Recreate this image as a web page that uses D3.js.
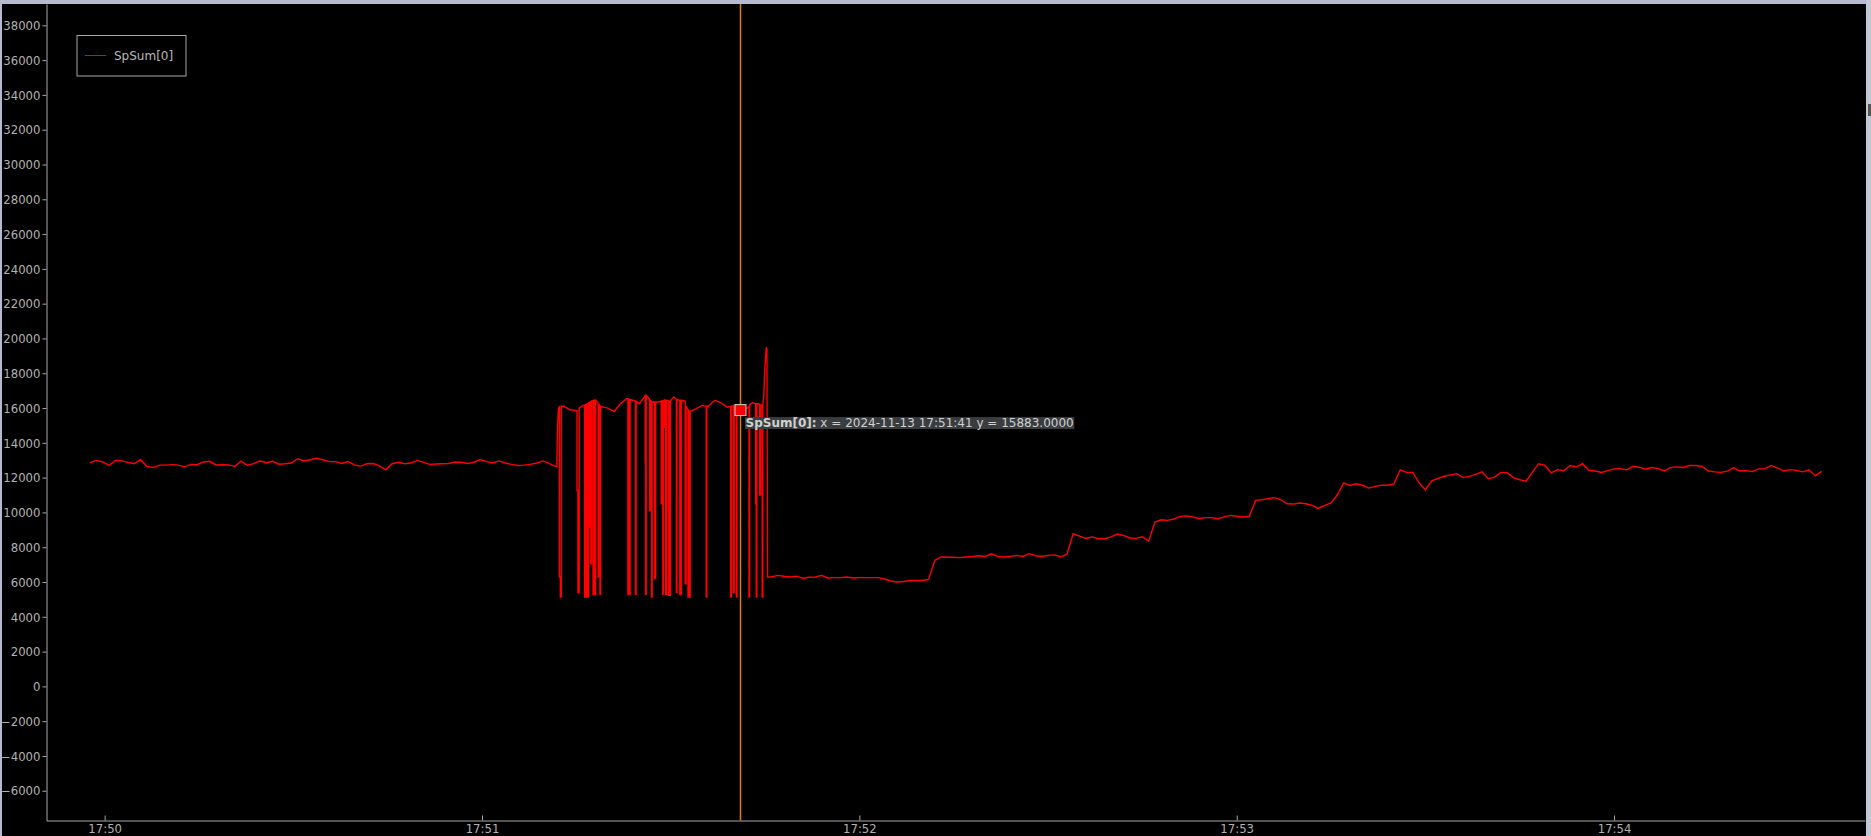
<!DOCTYPE html>
<html>
<head>
<meta charset="utf-8">
<script src="https://cdn.jsdelivr.net/npm/d3@7"></script>
<style>
  html, body { margin: 0; padding: 0; background: #000; overflow: hidden; }
  svg { display: block; }
  text { font-family: "DejaVu Sans", sans-serif; }
</style>
</head>
<body>
<svg id="chart" width="1871" height="836"></svg>
<script>
'use strict';

// series name and the day of the recording
var seriesName = 'SpSum[0]';
var dayStart = new Date(2024, 10, 13, 17, 50, 0);

// steady part before the burst, one value per second from t = -2.3 s
var beforeStart = -2.3;
var before = [
  12860, 12990, 12900, 12700, 12990, 12960, 12880, 12800, 13030, 12650,
  12580, 12720, 12720, 12750, 12720, 12620, 12760, 12740, 12900, 12940,
  12730, 12740, 12730, 12650, 12950, 12710, 12800, 12970, 12860, 12940,
  12770, 12800, 12840, 13090, 12960, 13030, 13110, 13030, 12920, 12920,
  12810, 12920, 12730, 12660, 12800, 12810, 12680, 12450, 12800, 12880,
  12800, 12840, 12990, 12880, 12760, 12780, 12800, 12810, 12900, 12880,
  12810, 12880, 13040, 12920, 12840, 12960, 12840, 12760, 12700, 12720,
  12760, 12840, 12960, 12800, 12650
];

// burst with dropouts: [seconds after 17:50, value]
var burst = [
  [71.9, 12650], [72.0, 14900], [72.15, 15970], [72.3, 16050],
  [72.3, 6300], [72.45, 6300], [72.45, 5140], [72.6, 5140], [72.6, 16100],
  [73.0, 16100], [74.0, 15900], [75.0, 15850],
  [75.1, 15850], [75.1, 11270], [75.25, 11270], [75.25, 5400], [75.45, 5400], [75.45, 16000],
  [76.0, 16150],
  [76.3, 16150], [76.3, 5140], [76.45, 5140], [76.45, 16200],
  [76.6, 16200], [76.6, 5140], [76.75, 5140], [76.75, 16250],
  [76.85, 16250], [76.85, 5140], [76.95, 5140], [76.95, 16300],
  [77.05, 16300], [77.05, 9160], [77.15, 9160], [77.15, 16350],
  [77.3, 16350], [77.3, 7050], [77.4, 7050], [77.4, 16400],
  [77.65, 16420], [77.65, 5300], [77.8, 5300], [77.8, 16450],
  [77.95, 16450], [77.95, 5300], [78.05, 5300], [78.05, 16450],
  [78.45, 16300], [78.45, 6300], [78.6, 6300], [78.6, 16200],
  [78.75, 16150], [78.75, 5300], [78.85, 5300], [78.85, 16100],
  [80.0, 16000], [81.0, 15800], [82.0, 16250], [83.0, 16540],
  [83.2, 16540], [83.2, 5300], [83.35, 5300], [83.35, 16500],
  [83.45, 16500], [83.45, 5300], [83.55, 5300], [83.55, 16480],
  [84.0, 16450],
  [84.4, 16400], [84.4, 5300], [84.5, 5300], [84.5, 16380],
  [85.0, 16250],
  [85.95, 16700], [85.95, 12900], [86.0, 12900], [86.0, 5300], [86.1, 5300], [86.1, 16740],
  [86.65, 16500], [86.65, 10100], [86.75, 10100], [86.75, 16450],
  [86.95, 16400], [86.95, 5140], [87.05, 5140], [87.05, 16350],
  [87.45, 16350], [87.45, 6200], [87.6, 6200], [87.6, 16350],
  [88.0, 16350],
  [88.5, 16400], [88.5, 10500], [88.6, 10500], [88.6, 16400],
  [88.75, 16420], [88.75, 5300], [88.85, 5300], [88.85, 16430],
  [88.95, 16450], [88.95, 14900], [89.05, 14900], [89.05, 16450],
  [89.2, 16450], [89.2, 5300], [89.3, 5300], [89.3, 16450],
  [89.6, 16420], [89.6, 5240], [89.75, 5240], [89.75, 16400],
  [89.85, 16400], [89.85, 5240], [89.95, 5240], [89.95, 16400],
  [90.5, 16640],
  [90.9, 16500], [90.9, 5400], [91.0, 5400], [91.0, 16500],
  [91.45, 16450], [91.45, 5300], [91.55, 5300], [91.55, 16450],
  [91.65, 16450], [91.65, 5300], [91.7, 5300], [91.7, 16440],
  [92.0, 16420],
  [92.3, 16400], [92.3, 5900], [92.45, 5900], [92.45, 16100],
  [92.75, 15900], [92.75, 5140], [92.85, 5140], [92.85, 15850],
  [93.0, 15800], [93.0, 5140], [93.1, 5140], [93.1, 15800],
  [94.0, 15950], [95.0, 16150],
  [95.65, 16100], [95.65, 5140], [95.75, 5140], [95.75, 16100],
  [96.0, 16100], [97.0, 16450], [98.0, 16300], [99.0, 16050],
  [99.55, 16100], [99.55, 5140], [99.65, 5140], [99.65, 16100],
  [99.95, 16150], [99.95, 5400], [100.1, 5400], [100.1, 16150],
  [100.45, 16100], [100.45, 5140], [100.55, 5140], [100.55, 16050],
  [101.0, 16000], [101.4, 15883], [102.0, 15950],
  [102.45, 16100], [102.45, 5140], [102.55, 5140], [102.55, 16200],
  [103.0, 16300],
  [103.5, 16250], [103.5, 10500], [103.6, 10500], [103.6, 5140], [103.7, 5140], [103.7, 16250],
  [104.0, 16250],
  [104.15, 16200], [104.15, 11000], [104.3, 11000], [104.3, 16150],
  [104.55, 16200], [104.55, 5140], [104.65, 5140], [104.65, 16200],
  [104.8, 16640], [104.95, 18170], [105.2, 19500], [105.3, 19400], [105.4, 6290]
];

// steps after the burst, one value per second from t = 106 s
var afterStart = 106;
var after = [
  6290, 6380, 6330, 6290, 6340, 6220, 6270, 6290, 6380, 6230,
  6250, 6250, 6290, 6230, 6250, 6250, 6250, 6250, 6170, 6060,
  6000, 6030, 6090, 6090, 6090, 6150, 7250, 7440, 7420, 7420,
  7400, 7440, 7470, 7510, 7470, 7620, 7470, 7440, 7470, 7530,
  7470, 7630, 7510, 7470, 7530, 7560, 7450, 7590, 8780, 8640,
  8500, 8590, 8490, 8490, 8590, 8760, 8680, 8530, 8510, 8600,
  8350, 9450, 9580, 9545, 9620, 9770, 9800, 9740, 9640, 9700,
  9700, 9640, 9740, 9830, 9780, 9740, 9780, 10690, 10730, 10790,
  10850, 10740, 10500, 10480, 10540, 10500, 10400, 10230, 10400, 10550,
  11000, 11700, 11550, 11650, 11560, 11400, 11500, 11560, 11560, 11640,
  12450, 12300, 12300, 11700, 11300, 11810, 11950, 12080, 12160, 12230,
  12000, 12070, 12190, 12330, 11940, 12030, 12300, 12290, 12000, 11880,
  11800, 12300, 12800, 12700, 12270, 12460, 12400, 12700, 12610, 12800,
  12420, 12380, 12300, 12400, 12500, 12520, 12450, 12650, 12600, 12480,
  12580, 12520, 12380, 12590, 12620, 12580, 12700, 12700, 12650, 12380,
  12330, 12300, 12370, 12560, 12380, 12400, 12350, 12500, 12520, 12700,
  12550, 12380, 12460, 12420, 12330, 12450, 12100, 12360
];

// axis ticks
var yTicks = [-6000, -4000, -2000, 0, 2000, 4000, 6000, 8000, 10000, 12000, 14000,
  16000, 18000, 20000, 22000, 24000, 26000, 28000, 30000, 32000, 34000, 36000, 38000];
var xTickLabels = ['17:50', '17:51', '17:52', '17:53', '17:54'];

// hovered sample
var cursorTime = '17:51:41';
var cursorValue = 15883;

// view range (seconds after 17:50, value)
var viewX = [-9.25, 279.9];
var viewY = [-7709, 39225];

var W = 1871, H = 836;
var plot = { left: 46.5, right: 1865, top: 4, bottom: 820.5 };

var secToDate = (s) => new Date(dayStart.getTime() + s * 1000);
var parseHM = d3.timeParse('%Y-%m-%d %H:%M');
var parseHMS = d3.timeParse('%Y-%m-%d %H:%M:%S');

// build the point list
var points = [];
before.forEach((v, i) => { points.push({ t: secToDate(beforeStart + i), v: v }); });
burst.forEach((p) => { points.push({ t: secToDate(p[0]), v: p[1] }); });
after.forEach((v, i) => { points.push({ t: secToDate(afterStart + i), v: v }); });

var x = d3.scaleTime()
  .domain([secToDate(viewX[0]), secToDate(viewX[1])])
  .range([plot.left, plot.right]);

var y = d3.scaleLinear()
  .domain(viewY)
  .range([plot.bottom, plot.top]);

var svg = d3.select('#chart');

svg.append('rect')
  .attr('width', W).attr('height', H)
  .attr('fill', '#000');

// clip for the data
svg.append('clipPath').attr('id', 'clip')
  .append('rect')
  .attr('x', plot.left).attr('y', plot.top)
  .attr('width', plot.right - plot.left)
  .attr('height', plot.bottom - plot.top);

var line = d3.line()
  .x((d) => x(d.t))
  .y((d) => y(d.v));

svg.append('path')
  .datum(points)
  .attr('clip-path', 'url(#clip)')
  .attr('fill', 'none')
  .attr('stroke', '#ff0000')
  .attr('stroke-width', 1.4)
  .attr('stroke-linejoin', 'miter')
  .attr('d', line);

// axes
var axisColor = '#a8a8a8';

var yAxis = svg.append('g')
  .attr('transform', 'translate(' + plot.left + ',0)')
  .call(d3.axisLeft(y)
    .tickValues(yTicks)
    .tickSizeInner(4)
    .tickSizeOuter(0)
    .tickPadding(2)
    .tickFormat(d3.format('d')));

var xTickDates = xTickLabels.map((s) => parseHM('2024-11-13 ' + s));

var xAxis = svg.append('g')
  .attr('transform', 'translate(0,' + plot.bottom + ')')
  .call(d3.axisBottom(x)
    .tickValues(xTickDates)
    .tickSizeInner(-5)
    .tickSizeOuter(0)
    .tickPadding(4)
    .tickFormat(d3.timeFormat('%H:%M')));

[yAxis, xAxis].forEach((g) => {
  g.selectAll('path.domain').attr('stroke', axisColor).attr('stroke-width', 1);
  g.selectAll('.tick line').attr('stroke', axisColor);
  g.selectAll('.tick text')
    .attr('fill', '#b2b2b2')
    .style('font-family', '"DejaVu Sans", sans-serif')
    .style('font-size', '11.7px');
});
yAxis.selectAll('.tick text').attr('dy', '0.36em');

// legend
var legend = svg.append('g');
legend.append('rect')
  .attr('x', 77).attr('y', 35.5)
  .attr('width', 109).attr('height', 40.5)
  .attr('fill', '#000')
  .attr('stroke', '#a8a8a8')
  .attr('stroke-width', 1);
legend.append('line')
  .attr('x1', 85).attr('x2', 106)
  .attr('y1', 55.5).attr('y2', 55.5)
  .attr('stroke', '#ff0000')
  .attr('stroke-width', 1);
legend.append('text')
  .attr('x', 114).attr('y', 60)
  .attr('fill', '#b8b8b8')
  .style('font-size', '12px')
  .text(seriesName);

// cursor
var cursorDate = parseHMS('2024-11-13 ' + cursorTime);
var cx = Math.round(x(cursorDate)) + 0.5;
var cy = y(cursorValue);

svg.append('line')
  .attr('x1', cx).attr('x2', cx)
  .attr('y1', plot.top).attr('y2', plot.bottom)
  .attr('stroke', '#d8801e')
  .attr('stroke-width', 1.5);

svg.append('rect')
  .attr('x', cx - 5.5).attr('y', cy - 5.5)
  .attr('width', 11).attr('height', 11)
  .attr('fill', '#ff0000')
  .attr('stroke', '#d0d0d0')
  .attr('stroke-width', 1);

var tip = svg.append('g').attr('transform', 'translate(' + (cx + 4.5) + ',' + (cy + 7) + ')');
var tipBg = tip.append('rect')
  .attr('x', 0).attr('y', 0)
  .attr('height', 12)
  .attr('fill', '#3a3d40');
var tipText = tip.append('text')
  .attr('x', 0.5).attr('y', 9.8)
  .attr('fill', '#d0d0d0')
  .style('font-size', '12px');
tipText.append('tspan')
  .style('font-weight', 'bold')
  .text(seriesName + ':');
tipText.append('tspan')
  .text(' x = 2024-11-13 ' + cursorTime + ' y = ' + cursorValue.toFixed(4));
tipBg.attr('width', tipText.node().getComputedTextLength() + 1);

// window frame
svg.append('rect').attr('x', 0).attr('y', 0).attr('width', W).attr('height', 4).attr('fill', '#b6b9d0');
svg.append('rect').attr('x', 0).attr('y', 0).attr('width', 2).attr('height', H).attr('fill', '#b6b9d0');
svg.append('rect').attr('x', 1866).attr('y', 0).attr('width', 5).attr('height', H).attr('fill', '#c4c7d6');
svg.append('rect').attr('x', 1868).attr('y', 104).attr('width', 3).attr('height', 12).attr('fill', '#555');
</script>
</body>
</html>
